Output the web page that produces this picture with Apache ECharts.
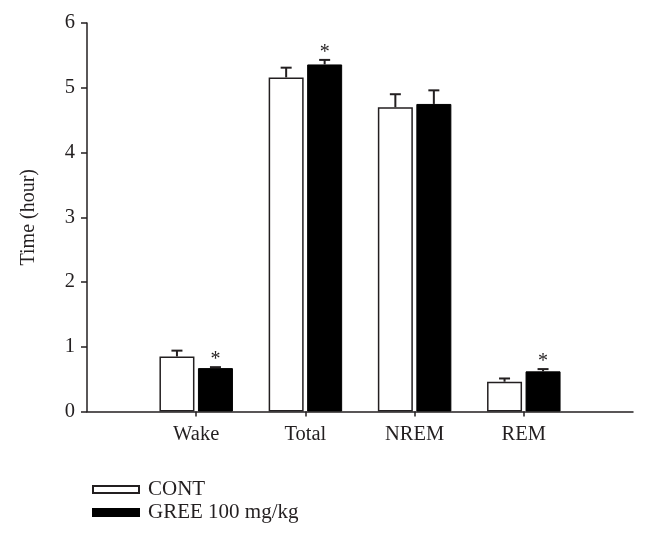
<!DOCTYPE html>
<html>
<head>
<meta charset="utf-8">
<script src="https://cdn.jsdelivr.net/npm/echarts@6/dist/echarts.min.js"></script>
<style>html,body{margin:0;padding:0;background:#fff}#c{width:646px;height:541px}</style>
</head>
<body>
<div id="c"></div>
<script>
var categories = ['Wake', 'Total', 'NREM', 'REM'];
var categoryPos = [1, 2, 3, 4];
var yTicks = [0, 1, 2, 3, 4, 5, 6];
var contMean = [0.85, 5.16, 4.70, 0.46];
var contErr = [0.09, 0.15, 0.20, 0.05];
var greeMean = [0.67, 5.36, 4.75, 0.62];
var greeErr = [0.015, 0.07, 0.21, 0.035];
var greeSig = [true, true, false, true];
var seriesNames = ['CONT', 'GREE 100 mg/kg'];

var FONT = 'Liberation Serif';
var INK = '#231f20';
var BAR_W = 35;
var OFFSET = 19.25;

function barData(means) {
  return means.map(function (v, i) { return [categoryPos[i], v]; });
}
function errData(means, errs, sig) {
  return means.map(function (v, i) { return [categoryPos[i], v, errs[i], sig ? (sig[i] ? 1 : 0) : 0]; });
}
function errRender(dx) {
  return function (params, api) {
    var x = api.value(0), m = api.value(1), e = api.value(2), s = api.value(3);
    var p0 = api.coord([x, m]);
    var p1 = api.coord([x, m + e]);
    var cx = p0[0] + dx;
    var children = [
      { type: 'line', shape: { x1: cx, y1: p0[1], x2: cx, y2: p1[1] }, style: { stroke: INK, lineWidth: 2 } },
      { type: 'line', shape: { x1: cx - 5.5, y1: p1[1], x2: cx + 5.5, y2: p1[1] }, style: { stroke: INK, lineWidth: 2 } }
    ];
    if (s) {
      children.push({ type: 'text', x: cx, y: p1[1] + 3, style: { text: '*', font: '20px "' + FONT + '"', fill: INK, align: 'center', verticalAlign: 'bottom' } });
    }
    return { type: 'group', children: children };
  };
}

var chart = echarts.init(document.getElementById('c'), null, { renderer: 'canvas' });
chart.setOption({
  animation: false,
  backgroundColor: '#fff',
  textStyle: { fontFamily: FONT, color: INK },
  grid: { left: 87, right: 13, top: 23, bottom: 129.5, containLabel: false },
  legend: {
    orient: 'vertical', left: 87, top: 474, itemWidth: 46, itemHeight: 7, itemGap: 2,
    icon: 'rect',
    data: seriesNames,
    textStyle: { fontFamily: FONT, fontSize: 21, color: INK, padding: [0, 0, 0, 4] }
  },
  xAxis: {
    type: 'value', min: 0, max: 5,
    axisLine: { lineStyle: { color: INK, width: 1.5 } },
    axisTick: { show: true, length: 5, lineStyle: { color: INK, width: 1.5 }, customValues: categoryPos },
    axisLabel: { customValues: categoryPos, margin: 13, fontFamily: FONT, fontSize: 20.5, color: INK,
      formatter: function (v) { var i = categoryPos.indexOf(v); return i >= 0 ? categories[i] : ''; } },
    splitLine: { show: false }
  },
  yAxis: {
    type: 'value', min: 0, max: 6, interval: 1,
    name: 'Time (hour)', nameLocation: 'middle', nameGap: 48, nameRotate: 90,
    nameTextStyle: { fontFamily: FONT, fontSize: 20, color: INK },
    axisLine: { show: true, lineStyle: { color: INK, width: 1.5 } },
    axisTick: { show: true, length: 6, lineStyle: { color: INK, width: 1.5 } },
    axisLabel: { margin: 12, fontFamily: FONT, fontSize: 20.5, color: INK,
      formatter: function (v) { return yTicks.indexOf(v) >= 0 ? String(v) : ''; } },
    splitLine: { show: false }
  },
  series: [
    { name: seriesNames[0], type: 'bar', barWidth: BAR_W, barGap: '10%', data: barData(contMean),
      itemStyle: { color: '#fff', borderColor: INK, borderWidth: 1.5 } },
    { name: seriesNames[1], type: 'bar', barWidth: BAR_W, barGap: '10%', data: barData(greeMean),
      itemStyle: { color: '#000', borderColor: '#000', borderWidth: 1 } },
    { type: 'custom', renderItem: errRender(-OFFSET), data: errData(contMean, contErr, null), z: 3 },
    { type: 'custom', renderItem: errRender(OFFSET), data: errData(greeMean, greeErr, greeSig), z: 3 }
  ]
});
</script>
</body>
</html>
